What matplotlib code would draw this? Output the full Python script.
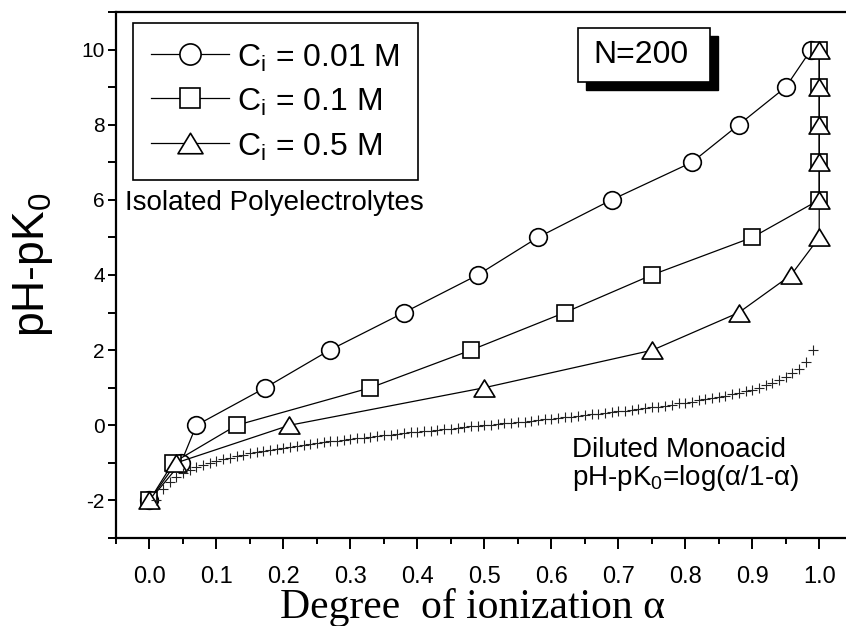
import matplotlib
matplotlib.use("Agg")
from matplotlib import pyplot as plt
from matplotlib.path import Path
from matplotlib.patches import Rectangle
from matplotlib.ticker import MultipleLocator, FormatStrFormatter

plt.rcParams['font.family'] = ['Liberation Sans', 'DejaVu Sans']
plt.rcParams['mathtext.fontset'] = 'custom'
plt.rcParams['mathtext.rm'] = 'Liberation Sans'
plt.rcParams['mathtext.it'] = 'Liberation Sans:italic'
plt.rcParams['axes.unicode_minus'] = False

# pH - pK0 steps shared by the three polyelectrolyte curves
ph_steps = [-2, -1, 0, 1, 2, 3, 4, 5, 6, 7, 8, 9, 10]

# degree of ionization read for each step
alpha_001 = [0.0, 0.047, 0.07, 0.173, 0.269, 0.38, 0.49, 0.58, 0.69, 0.81, 0.88, 0.95, 0.988]
alpha_01 = [0.0, 0.035, 0.13, 0.33, 0.48, 0.62, 0.75, 0.90, 1.0, 1.0, 1.0, 1.0, 1.0]
alpha_05 = [0.0, 0.04, 0.209, 0.50, 0.751, 0.88, 0.958, 1.0, 1.0, 1.0, 1.0, 1.0, 1.0]

labels = [r'C$_{\rm i}$ = 0.01 M', r'C$_{\rm i}$ = 0.1 M', r'C$_{\rm i}$ = 0.5 M']

# diluted monoacid (crosses)
alpha_mono = [0.01, 0.02, 0.03, 0.04, 0.05, 0.06, 0.07, 0.08, 0.09, 0.10,
              0.11, 0.12, 0.13, 0.14, 0.15, 0.16, 0.17, 0.18, 0.19, 0.20,
              0.21, 0.22, 0.23, 0.24, 0.25, 0.26, 0.27, 0.28, 0.29, 0.30,
              0.31, 0.32, 0.33, 0.34, 0.35, 0.36, 0.37, 0.38, 0.39, 0.40,
              0.41, 0.42, 0.43, 0.44, 0.45, 0.46, 0.47, 0.48, 0.49, 0.50,
              0.51, 0.52, 0.53, 0.54, 0.55, 0.56, 0.57, 0.58, 0.59, 0.60,
              0.61, 0.62, 0.63, 0.64, 0.65, 0.66, 0.67, 0.68, 0.69, 0.70,
              0.71, 0.72, 0.73, 0.74, 0.75, 0.76, 0.77, 0.78, 0.79, 0.80,
              0.81, 0.82, 0.83, 0.84, 0.85, 0.86, 0.87, 0.88, 0.89, 0.90,
              0.91, 0.92, 0.93, 0.94, 0.95, 0.96, 0.97, 0.98, 0.99]
ph_mono = [-2.00, -1.69, -1.51, -1.38, -1.28, -1.20, -1.12, -1.06, -1.00, -0.95,
           -0.91, -0.87, -0.83, -0.79, -0.75, -0.72, -0.69, -0.66, -0.63, -0.60,
           -0.58, -0.55, -0.52, -0.50, -0.48, -0.45, -0.43, -0.41, -0.39, -0.37,
           -0.35, -0.33, -0.31, -0.29, -0.27, -0.25, -0.23, -0.21, -0.19, -0.18,
           -0.16, -0.14, -0.12, -0.10, -0.09, -0.07, -0.05, -0.03, -0.02, 0.00,
           0.02, 0.03, 0.05, 0.07, 0.09, 0.10, 0.12, 0.14, 0.16, 0.18,
           0.19, 0.21, 0.23, 0.25, 0.27, 0.29, 0.31, 0.33, 0.35, 0.37,
           0.39, 0.41, 0.43, 0.45, 0.48, 0.50, 0.52, 0.55, 0.58, 0.60,
           0.63, 0.66, 0.69, 0.72, 0.75, 0.79, 0.83, 0.87, 0.91, 0.95,
           1.00, 1.06, 1.12, 1.20, 1.28, 1.38, 1.51, 1.69, 2.00]

W, H = 846, 626
fig = plt.figure(figsize=(W / 100, H / 100), dpi=100)
ax = fig.add_axes([116 / W, 88 / H, 730 / W, 526 / H])

# wide, flat triangle like the original symbol
tri = Path([(0, 0.82), (-1, -0.82), (1, -0.82), (0, 0.82)],
           [Path.MOVETO, Path.LINETO, Path.LINETO, Path.CLOSEPOLY])

style = dict(color='black', lw=0.9, mfc='white', mec='black', mew=1.2)
ax.plot(alpha_001, ph_steps, marker='o', ms=12.7, label=labels[0], **style)
ax.plot(alpha_01, ph_steps, marker='s', ms=12, label=labels[1], **style)
ax.plot(alpha_05, ph_steps, marker=tri, ms=15, label=labels[2], **style)
ax.plot(alpha_mono, ph_mono, ls='none', marker='+', ms=7, mew=0.8, color='#222222')

ax.set_xlim(-0.05, 1.04)
ax.set_ylim(-3, 11)

ax.xaxis.set_major_locator(MultipleLocator(0.1))
ax.xaxis.set_minor_locator(MultipleLocator(0.05))
ax.xaxis.set_major_formatter(FormatStrFormatter('%.1f'))
ax.yaxis.set_major_locator(MultipleLocator(2))
ax.yaxis.set_minor_locator(MultipleLocator(1))

ax.tick_params(axis='x', which='major', direction='out', length=8, width=1.4, pad=12, labelsize=17)
ax.tick_params(axis='x', which='minor', direction='out', length=4, width=1.4)
ax.tick_params(axis='y', which='both', direction='out', length=6, width=1.4, pad=2, labelsize=15)

for side in ['left', 'bottom', 'top']:
    ax.spines[side].set_linewidth(1.6)
ax.spines['right'].set_visible(False)

ax.set_xlabel('Degree  of ionization α', family='Liberation Serif', fontsize=30)
ax.xaxis.set_label_coords(0.489, -0.095)
fig.text(33 / W, 1 - 265 / H, 'pH-pK$_0$', rotation=90, ha='center', va='center', fontsize=32)

leg = ax.legend(loc='upper left', bbox_to_anchor=(133 / W, 1 - 23 / H), bbox_transform=fig.transFigure,
                borderaxespad=0, fontsize=23, markerscale=1.2, handlelength=2.44, handletextpad=0.28,
                handleheight=1.1, borderpad=0.55, labelspacing=0.35, fancybox=False, framealpha=1,
                edgecolor='black')
leg.get_frame().set_linewidth(1.2)

ax.text(0.0123, 0.6236, 'Isolated Polyelectrolytes', transform=ax.transAxes, fontsize=20, va='baseline')
ax.text(0.6247, 0.154, 'Diluted Monoacid', transform=ax.transAxes, fontsize=20, va='baseline')
ax.text(0.6247, 0.1008, 'pH-pK$_0$=log(α/1-α)', transform=ax.transAxes, fontsize=20, va='baseline')

# N=200 box with drop shadow
fig.add_artist(Rectangle((586 / W, 1 - 90 / H), 132 / W, 54 / H, transform=fig.transFigure,
                         facecolor='black', edgecolor='black'))
fig.add_artist(Rectangle((578 / W, 1 - 82 / H), 132 / W, 54 / H, transform=fig.transFigure,
                         facecolor='white', edgecolor='black', lw=1.2))
fig.text(641 / W, 1 - 55 / H, 'N=200', ha='center', va='center', fontsize=23)

fig.savefig('out.png', dpi=100)
